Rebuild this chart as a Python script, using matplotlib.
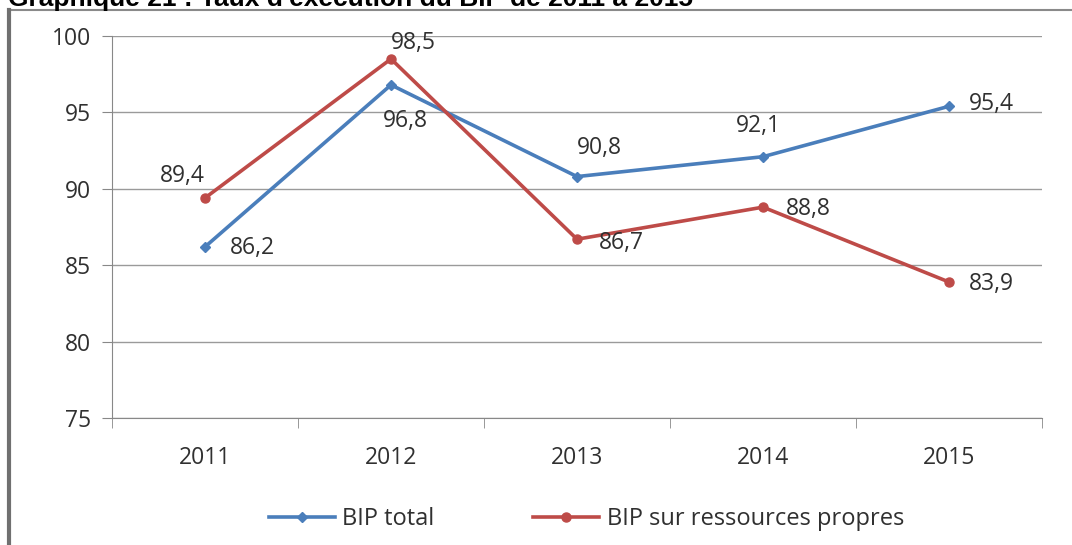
import numpy as np
from matplotlib import pyplot as plt
from matplotlib.lines import Line2D

years = ["2011", "2012", "2013", "2014", "2015"]
bip_total = [86.2, 96.8, 90.8, 92.1, 95.4]
bip_propres = [89.4, 98.5, 86.7, 88.8, 83.9]

# label offsets in pixels (dx to left edge, dy to centre)
off_total = [(25, -1), (-8, -36), (0, 29), (-27, 31), (20, 2)]
off_propres = [(-45, 22), (0, 16), (22, -4), (23, -2), (20, -2)]

blue = "#4a7ebb"
red = "#be4b48"
txt = "#303030"

plt.rcParams['font.family'] = ['Open Sans', 'DejaVu Sans']

figure = plt.figure(figsize=(10.72, 5.45), dpi=100)
ax = figure.add_axes([112/1072, 1 - 418/545, 930/1072, 382/545])
x = np.arange(len(years))

ax.plot(x, bip_total, color=blue, marker="D", markersize=5, linewidth=2.6, label="BIP total")
ax.plot(x, bip_propres, color=red, marker="o", markersize=6.5, linewidth=2.6, label="BIP sur ressources propres")

for i in range(len(years)):
    ax.annotate(f"{bip_total[i]:.1f}".replace(".", ","), (x[i], bip_total[i]),
                xytext=off_total[i], textcoords="offset pixels", ha="left",
                va="center", fontsize=16.5, color=txt)
    ax.annotate(f"{bip_propres[i]:.1f}".replace(".", ","), (x[i], bip_propres[i]),
                xytext=off_propres[i], textcoords="offset pixels", ha="left",
                va="center", fontsize=16.5, color=txt)

ax.set_xlim(-0.5, 4.5)
ax.set_ylim(75, 100)
ax.set_yticks(np.arange(75, 101, 5))
ax.set_xticks(x)
ax.set_xticklabels(years)
ax.set_xticks(np.arange(-0.5, 4.6, 1), minor=True)
ax.tick_params(axis="x", which="major", length=0, pad=20, labelsize=16.5, colors=txt)
ax.tick_params(axis="x", which="minor", length=7, direction="out", color="#888888")
ax.tick_params(axis="y", length=7, direction="out", labelsize=16.5, pad=8, labelcolor=txt, color="#888888")
ax.grid(axis="y", color="#9a9a9a", linewidth=1)
ax.set_axisbelow(True)
for s in ["top", "right"]:
    ax.spines[s].set_visible(False)
for s in ["left", "bottom"]:
    ax.spines[s].set_color("#888888")

ax.legend(loc="center", bbox_to_anchor=(0.51, -0.265), ncol=2, frameon=False,
          fontsize=17, handlelength=2.8, handletextpad=0.3, columnspacing=4.2, labelcolor=txt)

# outer chart frame and cropped title
figure.add_artist(Line2D([9/1072, 1], [1 - 10/545, 1 - 10/545], transform=figure.transFigure,
                         color="#8a8a8a", linewidth=1.5))
figure.add_artist(Line2D([9/1072, 9/1072], [0, 1 - 10/545], transform=figure.transFigure,
                         color="#707070", linewidth=3))
figure.text(8/1072, 1 + 1/545, "Graphique 21 : Taux d'exécution du BIP de 2011 à 2015", fontsize=19,
            fontweight="bold", family="Liberation Sans", va="center", ha="left")

plt.savefig("out.png", dpi=100)
